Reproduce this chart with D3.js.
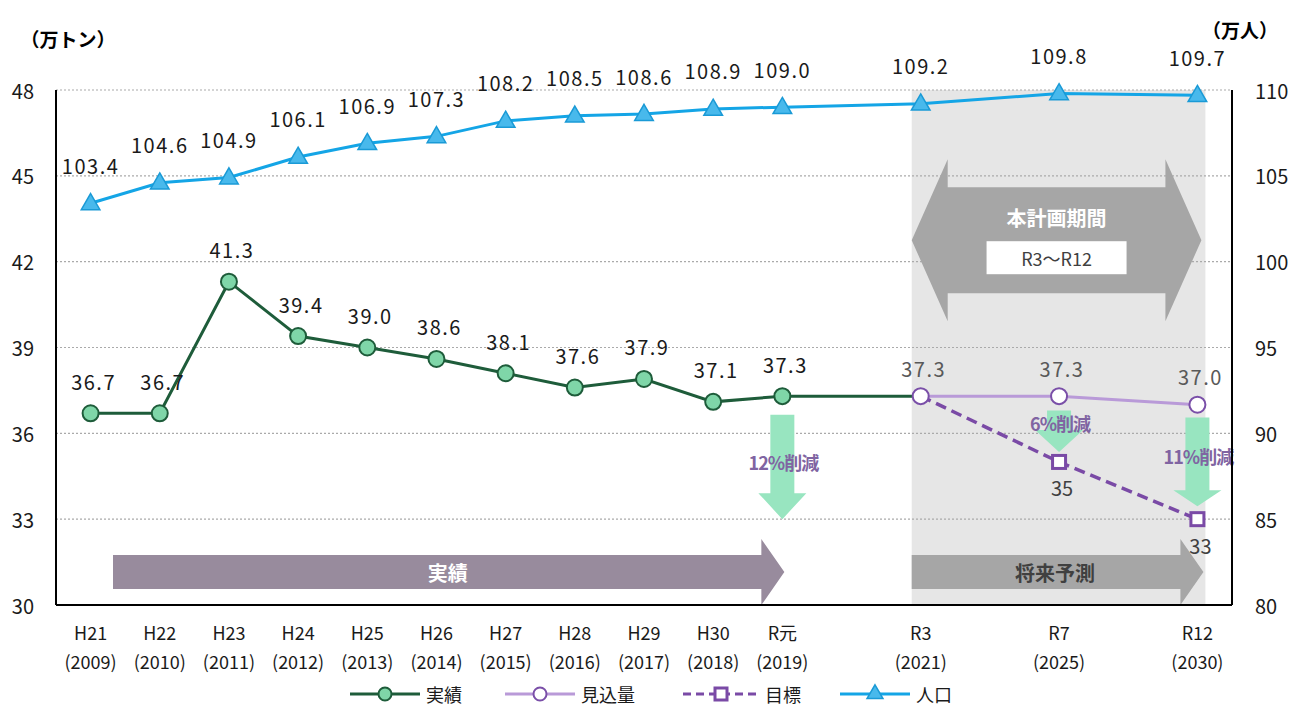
<!DOCTYPE html>
<html>
<head>
<meta charset="utf-8">
<script src="https://cdn.jsdelivr.net/npm/d3@7"></script>
<style>
  body { margin: 0; background: #fff; }
  text { font-family: "Noto Sans CJK JP", "Noto Sans", sans-serif; }
</style>
</head>
<body>
<script>
// categories (slot = position on the 17-slot category axis)
const eraLabels = ["H21","H22","H23","H24","H25","H26","H27","H28","H29","H30","R元","R3","R7","R12"];
const yearLabels = ["(2009)","(2010)","(2011)","(2012)","(2013)","(2014)","(2015)","(2016)","(2017)","(2018)","(2019)","(2021)","(2025)","(2030)"];
const slots = [0,1,2,3,4,5,6,7,8,9,10,12,14,16];

// series
const population = [103.4,104.6,104.9,106.1,106.9,107.3,108.2,108.5,108.6,108.9,109.0,109.2,109.8,109.7];
const actual = [36.7,36.7,41.3,39.4,39.0,38.6,38.1,37.6,37.9,37.1,37.3];
const forecast = [37.3,37.3,37.0];   // R3, R7, R12
const target = [37.3,35,33];         // R3, R7, R12
const reductions = ["12%削減","6%削減","11%削減"];

// axes
const leftTicks = [30,33,36,39,42,45,48];
const rightTicks = [80,85,90,95,100,105,110];

const w = 1291, h = 706;
const margin = {top: 90, right: 59, bottom: 101, left: 56};

const svg = d3.select("body").append("svg")
    .attr("width", w)
    .attr("height", h);

const x = d3.scaleBand()
    .domain(d3.range(17))
    .range([margin.left, w - margin.right]);
const cx = s => x(s) + x.bandwidth() / 2;

const yL = d3.scaleLinear().domain([30, 48]).range([h - margin.bottom, margin.top]);
const yR = d3.scaleLinear().domain([80, 110]).range([h - margin.bottom, margin.top]);

const futureSlots = slots.slice(11);
const actualPts = actual.map((v, i) => [slots[i], v]);
const forecastPts = forecast.map((v, i) => [futureSlots[i], v]);
const targetPts = target.map((v, i) => [futureSlots[i], v]);
const popPts = population.map((v, i) => [slots[i], v]);

// plan-period shading
svg.append("rect")
    .attr("x", cx(12) - 9)
    .attr("y", yL(48))
    .attr("width", cx(16) - cx(12) + 17)
    .attr("height", yL(30) - yL(48))
    .attr("fill", "#e6e6e6");

// gridlines
svg.append("g")
    .selectAll("line")
    .data(leftTicks.filter(d => d > 30))
    .join("line")
    .attr("x1", margin.left).attr("x2", w - margin.right)
    .attr("y1", d => yL(d)).attr("y2", d => yL(d))
    .attr("stroke", "#aaa")
    .attr("stroke-width", 1.2)
    .attr("stroke-dasharray", "2,2");

// horizontal block arrow helper
function hArrow(x0, x1, yc, shaftH, headH, headW) {
  const p = d3.path();
  p.moveTo(x0, yc - shaftH / 2);
  p.lineTo(x1 - headW, yc - shaftH / 2);
  p.lineTo(x1 - headW, yc - headH / 2);
  p.lineTo(x1, yc);
  p.lineTo(x1 - headW, yc + headH / 2);
  p.lineTo(x1 - headW, yc + shaftH / 2);
  p.lineTo(x0, yc + shaftH / 2);
  p.closePath();
  return p.toString();
}

// 実績 / 将来予測 arrows
const arrowY = yL(31.15);
svg.append("path")
    .attr("d", hArrow(113, cx(10) + 2, arrowY, 34, 66, 23))
    .attr("fill", "#988b9d");
svg.append("text")
    .attr("x", (113 + cx(10)) / 2).attr("y", arrowY)
    .attr("text-anchor", "middle").attr("dominant-baseline", "central")
    .attr("fill", "#fff").attr("font-size", 20).attr("font-weight", "bold")
    .text("実績");
svg.append("path")
    .attr("d", hArrow(cx(12) - 9, cx(16) + 6, arrowY, 34, 66, 23))
    .attr("fill", "#a6a6a6");
svg.append("text")
    .attr("x", (cx(12) + cx(16)) / 2 - 4).attr("y", arrowY)
    .attr("text-anchor", "middle").attr("dominant-baseline", "central")
    .attr("fill", "#404040").attr("font-size", 20).attr("font-weight", "bold")
    .text("将来予測");

// double arrow for plan period
{
  const xa = cx(12) - 9, xb = cx(16) + 4, yc = yR(101.25);
  const headW = 36, shaftH = 106, headH = 162;
  const p = d3.path();
  p.moveTo(xa, yc);
  p.lineTo(xa + headW, yc - headH / 2);
  p.lineTo(xa + headW, yc - shaftH / 2);
  p.lineTo(xb - headW, yc - shaftH / 2);
  p.lineTo(xb - headW, yc - headH / 2);
  p.lineTo(xb, yc);
  p.lineTo(xb - headW, yc + headH / 2);
  p.lineTo(xb - headW, yc + shaftH / 2);
  p.lineTo(xa + headW, yc + shaftH / 2);
  p.lineTo(xa + headW, yc + headH / 2);
  p.closePath();
  svg.append("path").attr("d", p.toString()).attr("fill", "#a6a6a6");
  const mid = (xa + xb) / 2;
  svg.append("text")
      .attr("x", mid).attr("y", yc - 23)
      .attr("text-anchor", "middle").attr("dominant-baseline", "central")
      .attr("fill", "#fff").attr("font-size", 20).attr("font-weight", "bold")
      .text("本計画期間");
  svg.append("rect")
      .attr("x", mid - 70).attr("y", yc + 1)
      .attr("width", 140).attr("height", 33)
      .attr("fill", "#fff");
  svg.append("text")
      .attr("x", mid).attr("y", yc + 18)
      .attr("text-anchor", "middle").attr("dominant-baseline", "central")
      .attr("fill", "#404040").attr("font-size", 18)
      .text("R3～R12");
}

// green reduction arrows
function vArrow(xc, y0, y1, shaftW, headW, headH) {
  const p = d3.path();
  p.moveTo(xc - shaftW / 2, y0);
  p.lineTo(xc + shaftW / 2, y0);
  p.lineTo(xc + shaftW / 2, y1 - headH);
  p.lineTo(xc + headW / 2, y1 - headH);
  p.lineTo(xc, y1);
  p.lineTo(xc - headW / 2, y1 - headH);
  p.lineTo(xc - shaftW / 2, y1 - headH);
  p.closePath();
  return p.toString();
}
const redArrows = [
  {s: 10, top: 36.65, tip: 33.0, headH: 26, text: 35.0},
  {s: 14, top: 36.8, tip: 35.35, headH: 22, text: 36.35},
  {s: 16, top: 36.55, tip: 33.45, headH: 16, text: 35.2}
];
svg.append("g").selectAll("path")
    .data(redArrows)
    .join("path")
    .attr("d", d => vArrow(cx(d.s), yL(d.top), yL(d.tip), 24, 48, d.headH))
    .attr("fill", "#98e5c0");
svg.append("g").selectAll("text")
    .data(redArrows)
    .join("text")
    .attr("x", d => cx(d.s) + 1)
    .attr("y", d => yL(d.text))
    .attr("text-anchor", "middle").attr("dominant-baseline", "central")
    .attr("fill", "#8064a2").attr("font-size", 18).attr("font-weight", "bold")
    .attr("letter-spacing", -1)
    .text((d, i) => reductions[i]);

// axes lines
const axisG = svg.append("g").attr("stroke", "#000").attr("stroke-width", 2);
axisG.append("line").attr("x1", margin.left).attr("x2", margin.left).attr("y1", yL(48)).attr("y2", yL(30));
axisG.append("line").attr("x1", w - margin.right).attr("x2", w - margin.right).attr("y1", yL(48)).attr("y2", yL(30));
axisG.append("line").attr("x1", margin.left).attr("x2", w - margin.right).attr("y1", yL(30)).attr("y2", yL(30));

// tick labels
svg.append("g").selectAll("text")
    .data(leftTicks).join("text")
    .attr("x", 34).attr("y", d => yL(d))
    .attr("text-anchor", "end").attr("dominant-baseline", "central")
    .attr("font-size", 20).attr("fill", "#1a1a1a")
    .text(d => d);
svg.append("g").selectAll("text")
    .data(rightTicks).join("text")
    .attr("x", 1255).attr("y", d => yR(d))
    .attr("text-anchor", "start").attr("dominant-baseline", "central")
    .attr("font-size", 20).attr("fill", "#1a1a1a")
    .text(d => d);

svg.append("g").selectAll("text")
    .data(eraLabels).join("text")
    .attr("x", (d, i) => cx(slots[i])).attr("y", 632)
    .attr("text-anchor", "middle").attr("dominant-baseline", "central")
    .attr("font-size", 18).attr("fill", "#1a1a1a")
    .text(d => d);
svg.append("g").selectAll("text")
    .data(yearLabels).join("text")
    .attr("x", (d, i) => cx(slots[i])).attr("y", 661)
    .attr("text-anchor", "middle").attr("dominant-baseline", "central")
    .attr("font-size", 18).attr("fill", "#1a1a1a")
    .text(d => d);

// unit titles
svg.append("text").attr("x", 68).attr("y", 38)
    .attr("text-anchor", "middle").attr("dominant-baseline", "central")
    .attr("font-size", 19).attr("font-weight", "bold").text("（万トン）");
svg.append("text").attr("x", 1240).attr("y", 29)
    .attr("text-anchor", "middle").attr("dominant-baseline", "central")
    .attr("font-size", 19).attr("font-weight", "bold").text("（万人）");

// lines
const lineL = d3.line().x(d => cx(d[0])).y(d => yL(d[1]));
const lineR = d3.line().x(d => cx(d[0])).y(d => yR(d[1]));

svg.append("path")
    .datum(forecastPts)
    .attr("d", lineL).attr("fill", "none")
    .attr("stroke", "#b99ad8").attr("stroke-width", 3);
svg.append("path")
    .datum(actualPts.concat([forecastPts[0]]))
    .attr("d", lineL).attr("fill", "none")
    .attr("stroke", "#1e5c3a").attr("stroke-width", 3);
svg.append("path")
    .datum(targetPts)
    .attr("d", lineL).attr("fill", "none")
    .attr("stroke", "#7a4aa6").attr("stroke-width", 3.5)
    .attr("stroke-dasharray", "11,6");
svg.append("path")
    .datum(popPts)
    .attr("d", lineR).attr("fill", "none")
    .attr("stroke", "#14a5e6").attr("stroke-width", 3);

// markers
svg.append("g").selectAll("circle")
    .data(actualPts).join("circle")
    .attr("cx", d => cx(d[0])).attr("cy", d => yL(d[1])).attr("r", 8)
    .attr("fill", "#7fd6a8").attr("stroke", "#1e5c3a").attr("stroke-width", 2);
svg.append("g").selectAll("rect")
    .data(targetPts.slice(1)).join("rect")
    .attr("x", d => cx(d[0]) - 6.5).attr("y", d => yL(d[1]) - 6.5)
    .attr("width", 13).attr("height", 13)
    .attr("fill", "#fff").attr("stroke", "#7a4aa6").attr("stroke-width", 3);
svg.append("g").selectAll("circle")
    .data(forecastPts).join("circle")
    .attr("cx", d => cx(d[0])).attr("cy", d => yL(d[1])).attr("r", 8)
    .attr("fill", "#fff").attr("stroke", "#7a4fa8").attr("stroke-width", 2);
const tri = d3.symbol().type(d3.symbolTriangle).size(150);
svg.append("g").selectAll("path")
    .data(popPts).join("path")
    .attr("d", tri)
    .attr("transform", d => `translate(${cx(d[0])},${yR(d[1]) + 1})`)
    .attr("fill", "#48b9ec").attr("stroke", "#1a9ad6").attr("stroke-width", 1.5);

// value labels
svg.append("g").selectAll("text")
    .data(popPts).join("text")
    .attr("x", d => cx(d[0])).attr("y", d => yR(d[1]) - 38)
    .attr("text-anchor", "middle").attr("dominant-baseline", "central")
    .attr("font-size", 20).attr("letter-spacing", 1.5).attr("fill", "#1a1a1a")
    .text(d => d3.format(".1f")(d[1]));
svg.append("g").selectAll("text")
    .data(actualPts).join("text")
    .attr("x", d => cx(d[0]) + 3).attr("y", d => yL(d[1]) - 32)
    .attr("text-anchor", "middle").attr("dominant-baseline", "central")
    .attr("font-size", 20).attr("letter-spacing", 1.5).attr("fill", "#1a1a1a")
    .text(d => d3.format(".1f")(d[1]));
svg.append("g").selectAll("text")
    .data(forecastPts).join("text")
    .attr("x", d => cx(d[0]) + 3).attr("y", d => yL(d[1]) - 28)
    .attr("text-anchor", "middle").attr("dominant-baseline", "central")
    .attr("font-size", 20).attr("letter-spacing", 1.5).attr("fill", "#595959")
    .text(d => d3.format(".1f")(d[1]));
svg.append("g").selectAll("text")
    .data(targetPts.slice(1)).join("text")
    .attr("x", d => cx(d[0]) + 3).attr("y", d => yL(d[1]) + 26)
    .attr("text-anchor", "middle").attr("dominant-baseline", "central")
    .attr("font-size", 20).attr("fill", "#404040")
    .text(d => d[1]);

// legend
const legend = [
  {name: "実績", x: 350, w: 70, color: "#1e5c3a", dash: null, mark: "circle", fill: "#7fd6a8"},
  {name: "見込量", x: 505, w: 70, color: "#b99ad8", dash: null, mark: "circle", fill: "#fff", mstroke: "#7a4fa8"},
  {name: "目標", x: 683, w: 76, color: "#7a4aa6", dash: "8,5", mark: "square", fill: "#fff"},
  {name: "人口", x: 840, w: 70, color: "#14a5e6", dash: null, mark: "tri", fill: "#48b9ec"}
];
const ly = 694;
const lg = svg.append("g").selectAll("g").data(legend).join("g");
lg.append("line")
    .attr("x1", d => d.x).attr("x2", d => d.x + d.w)
    .attr("y1", ly).attr("y2", ly)
    .attr("stroke", d => d.color).attr("stroke-width", 3)
    .attr("stroke-dasharray", d => d.dash);
lg.filter(d => d.mark === "circle").append("circle")
    .attr("cx", d => d.x + d.w / 2).attr("cy", ly).attr("r", 6.5)
    .attr("fill", d => d.fill).attr("stroke", d => d.mstroke || d.color).attr("stroke-width", 2);
lg.filter(d => d.mark === "square").append("rect")
    .attr("x", d => d.x + d.w / 2 - 6).attr("y", ly - 6).attr("width", 12).attr("height", 12)
    .attr("fill", "#fff").attr("stroke", d => d.color).attr("stroke-width", 3);
lg.filter(d => d.mark === "tri").append("path")
    .attr("d", d3.symbol().type(d3.symbolTriangle).size(110))
    .attr("transform", d => `translate(${d.x + d.w / 2},${ly})`)
    .attr("fill", d => d.fill).attr("stroke", "#1a9ad6").attr("stroke-width", 1.5);
lg.append("text")
    .attr("x", d => d.x + d.w + 6).attr("y", ly)
    .attr("dominant-baseline", "central")
    .attr("font-size", 18).attr("fill", "#1a1a1a")
    .text(d => d.name);
</script>
</body>
</html>
